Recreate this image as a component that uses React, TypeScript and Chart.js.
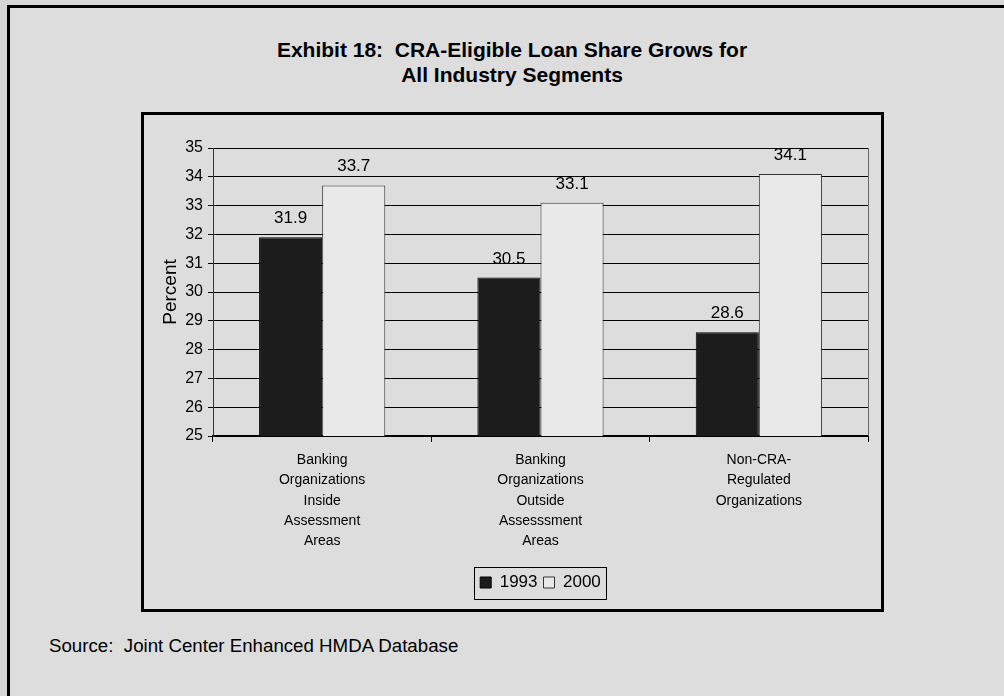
import React, { useEffect, useRef } from "react";
import { Chart, registerables } from "chart.js";

Chart.register(...registerables);

const FONT = '"Liberation Sans", Arial, Helvetica, sans-serif';

const titleLines = ["Exhibit 18:  CRA-Eligible Loan Share Grows for", "All Industry Segments"];
const sourceText = "Source:  Joint Center Enhanced HMDA Database";
const categories = [
  ["Banking", "Organizations", "Inside", "Assessment", "Areas"],
  ["Banking", "Organizations", "Outside", "Assesssment", "Areas"],
  ["Non-CRA-", "Regulated", "Organizations"],
];
const seriesNames = ["1993", "2000"];
const values1993 = [31.9, 30.5, 28.6];
const values2000 = [33.7, 33.1, 34.1];
const yMin = 25;
const yMax = 35;
const yStep = 1;
const yTitle = "Percent";

const valueLabels = {
  id: "valueLabels",
  afterDatasetsDraw(chart: any) {
    const ctx = chart.ctx;
    ctx.save();
    ctx.font = `17px ${FONT}`;
    ctx.fillStyle = "#000";
    ctx.textAlign = "center";
    ctx.textBaseline = "alphabetic";
    chart.data.datasets.forEach((ds: any, i: number) => {
      chart.getDatasetMeta(i).data.forEach((bar: any, j: number) => {
        ctx.fillText(ds.data[j].toFixed(1), bar.x, bar.y - 14);
      });
    });
    ctx.restore();
  },
};

const frames = {
  id: "frames",
  afterDraw(chart: any) {
    const ctx = chart.ctx;
    const a = chart.chartArea;
    ctx.save();
    ctx.strokeStyle = "#666";
    ctx.lineWidth = 1;
    ctx.beginPath();
    ctx.moveTo(Math.round(a.right) + 0.5, Math.round(a.top));
    ctx.lineTo(Math.round(a.right) + 0.5, Math.round(a.bottom));
    ctx.stroke();
    const boxes = chart.legend?.legendHitBoxes || [];
    if (boxes.length) {
      let l = Infinity, r = -Infinity, t = Infinity, b = -Infinity;
      boxes.forEach((h: any) => {
        l = Math.min(l, h.left);
        r = Math.max(r, h.left + h.width);
        t = Math.min(t, h.top);
        b = Math.max(b, h.top + h.height);
      });
      ctx.strokeStyle = "#000";
      ctx.lineWidth = 1;
      ctx.strokeRect(Math.round(l - 6) + 0.5, Math.round(t - 7) + 0.5, Math.round(r - l + 11), Math.round(b - t + 15));
    }
    ctx.restore();
  },
};

function BarChart() {
  const ref = useRef<HTMLCanvasElement>(null);
  useEffect(() => {
    if (!ref.current) return;
    Chart.defaults.font.family = FONT;
    const chart = new Chart(ref.current, {
      type: "bar",
      data: {
        labels: categories,
        datasets: [
          {
            label: seriesNames[0],
            data: values1993,
            backgroundColor: "#1c1c1c",
            borderColor: "#000",
            borderWidth: 1,
            categoryPercentage: 0.578,
            barPercentage: 1,
          },
          {
            label: seriesNames[1],
            data: values2000,
            backgroundColor: "#e9e9e9",
            borderColor: "#333",
            borderWidth: 1,
            categoryPercentage: 0.578,
            barPercentage: 1,
          },
        ],
      },
      options: {
        animation: false,
        responsive: false,
        devicePixelRatio: 1,
        layout: { padding: { top: 33, right: 13, bottom: 8, left: 0 } },
        plugins: {
          legend: {
            position: "bottom",
            fullSize: false,
            labels: {
              font: { family: FONT, size: 17 },
              color: "#000",
              boxWidth: 11,
              boxHeight: 11,
              padding: 6,
            },
          },
          tooltip: { enabled: false },
        },
        scales: {
          x: {
            grid: { display: true, drawOnChartArea: false, tickLength: 6, color: "#000", offset: true },
            border: { color: "#000", width: 2 },
            ticks: {
              font: { family: FONT, size: 14, lineHeight: 1.45 },
              color: "#000",
              padding: 8,
              maxRotation: 0,
              autoSkip: false,
            },
            afterFit: (s: any) => {
              s.height = 132;
            },
          },
          y: {
            min: yMin,
            max: yMax,
            ticks: { stepSize: yStep, font: { family: FONT, size: 16 }, color: "#000", padding: 5 },
            grid: { color: "#000", tickLength: 5 },
            border: { color: "#333", width: 1 },
            title: {
              display: true,
              text: yTitle,
              font: { family: FONT, size: 19 },
              color: "#000",
              padding: { top: 15, bottom: 0 },
            },
            afterFit: (s: any) => {
              s.width = 69;
            },
          },
        },
      },
      plugins: [valueLabels, frames],
    });
    return () => chart.destroy();
  }, []);
  return <canvas ref={ref} width={737} height={494} style={{ display: "block", width: 737, height: 494 }} />;
}

export default function App() {
  return (
    <div style={{ position: "fixed", left: 0, top: 0, width: 1004, height: 696, background: "#d6d6d6", overflow: "hidden", fontFamily: FONT }}>
      <div
        style={{
          position: "absolute",
          left: 7,
          top: 5,
          width: 1100,
          height: 800,
          border: "3px solid #000",
          background: "#dddddd",
          boxSizing: "border-box",
        }}
      />
      <div
        style={{
          position: "absolute",
          left: 162,
          width: 700,
          top: 37,
          textAlign: "center",
          fontWeight: "bold",
          fontSize: 21,
          lineHeight: "25px",
          whiteSpace: "pre",
          color: "#000",
        }}
      >
        {titleLines.map((t, i) => (
          <div key={i}>{t}</div>
        ))}
      </div>
      <div
        style={{
          position: "absolute",
          left: 141,
          top: 112,
          width: 743,
          height: 500,
          border: "3px solid #000",
          boxSizing: "border-box",
          background: "#dddddd",
        }}
      >
        <BarChart />
      </div>
      <div
        style={{
          position: "absolute",
          left: 49,
          top: 637,
          fontSize: 18.7,
          lineHeight: "18.7px",
          whiteSpace: "pre",
          color: "#000",
        }}
      >
        {sourceText}
      </div>
    </div>
  );
}
